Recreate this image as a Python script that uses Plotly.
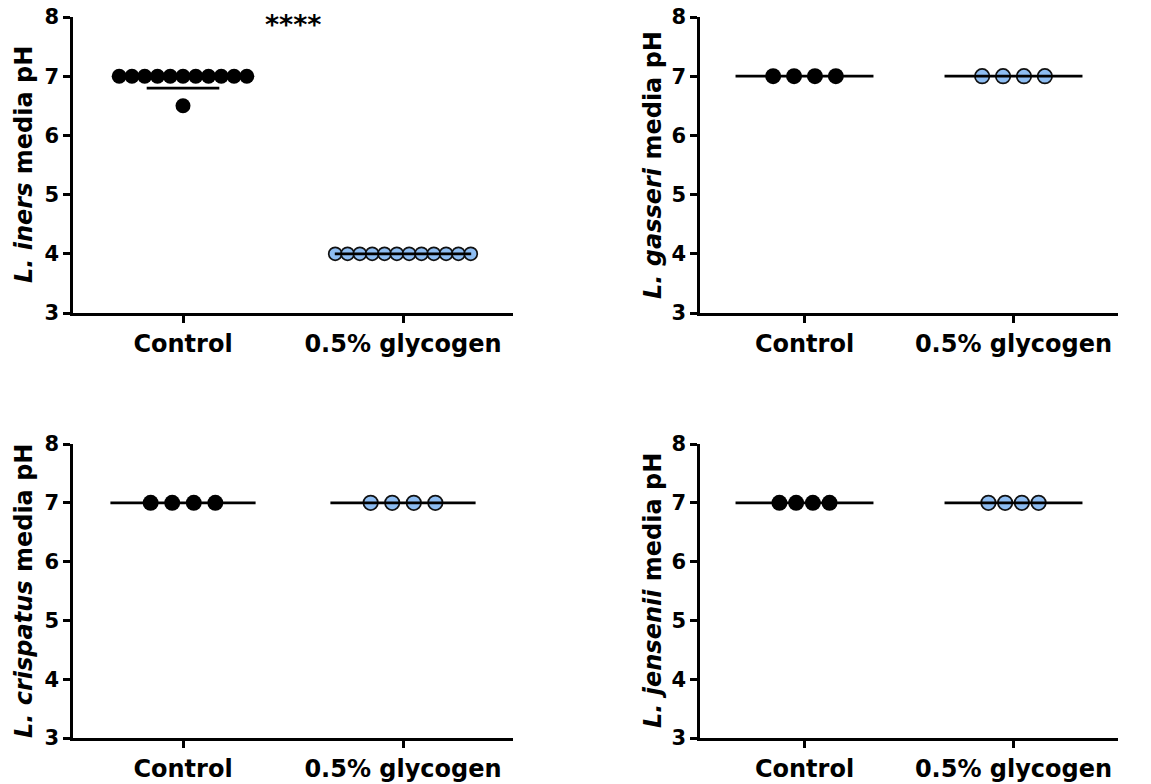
import plotly.graph_objects as go

# ---------------- data ----------------
categories = ["Control", "0.5% glycogen"]
y_ticks = [3, 4, 5, 6, 7, 8]

iners_control = [7.0] * 11 + [6.5]
iners_glycogen = [4.0] * 12
iners_lines = [6.8, 4.0]

gasseri_control = [7.0, 7.0, 7.0, 7.0]
gasseri_glycogen = [7.0, 7.0, 7.0, 7.0]
gasseri_lines = [7.0, 7.0]

crispatus_control = [7.0, 7.0, 7.0, 7.0]
crispatus_glycogen = [7.0, 7.0, 7.0, 7.0]
crispatus_lines = [7.0, 7.0]

jensenii_control = [7.0, 7.0, 7.0, 7.0]
jensenii_glycogen = [7.0, 7.0, 7.0, 7.0]
jensenii_lines = [7.0, 7.0]

species = ["iners", "gasseri", "crispatus", "jensenii"]
significance = ["****", "", "", ""]

# ---------------- style ----------------
FONT = "DejaVu Sans"
BLUE = "#8EBDF2"
panels = [
    dict(ctrl=iners_control, gly=iners_glycogen, lines=iners_lines, name="iners",
         xd=[73, 513], yd=[17, 313], spacing=[0.058, 0.056], half=[0.165, 0.31],
         msize=[15, 13], title_x=24),
    dict(ctrl=gasseri_control, gly=gasseri_glycogen, lines=gasseri_lines, name="gasseri",
         xd=[700, 1118], yd=[17, 313], spacing=[0.10, 0.10], half=[0.33, 0.33],
         msize=[16, 14.5], title_x=653),
    dict(ctrl=crispatus_control, gly=crispatus_glycogen, lines=crispatus_lines, name="crispatus",
         xd=[73, 513], yd=[444, 738], spacing=[0.098, 0.098], half=[0.33, 0.33],
         msize=[16, 14.5], title_x=24),
    dict(ctrl=jensenii_control, gly=jensenii_glycogen, lines=jensenii_lines, name="jensenii",
         xd=[700, 1118], yd=[444, 738], spacing=[0.08, 0.08], half=[0.33, 0.33],
         msize=[16, 14.5], title_x=653),
]

W, H = 1151, 784


def swarm(values, center, spacing):
    """Spread equal values symmetrically around the group centre."""
    xs = [None] * len(values)
    groups = {}
    for i, v in enumerate(values):
        groups.setdefault(v, []).append(i)
    for v, idx in groups.items():
        n = len(idx)
        for k, i in enumerate(idx):
            xs[i] = center + (k - (n - 1) / 2) * spacing
    return xs


fig = go.Figure()
layout = {}
for p_i, p in enumerate(panels):
    n = p_i + 1
    xa = "x" if n == 1 else f"x{n}"
    ya = "y" if n == 1 else f"y{n}"
    xkey = "xaxis" if n == 1 else f"xaxis{n}"
    ykey = "yaxis" if n == 1 else f"yaxis{n}"

    # control points
    fig.add_trace(go.Scatter(
        x=swarm(p["ctrl"], 0, p["spacing"][0]), y=p["ctrl"], mode="markers",
        marker=dict(color="black", size=p["msize"][0], line=dict(width=0)),
        xaxis=xa, yaxis=ya, showlegend=False, cliponaxis=False))
    # glycogen points
    fig.add_trace(go.Scatter(
        x=swarm(p["gly"], 1, p["spacing"][1]), y=p["gly"], mode="markers",
        marker=dict(color=BLUE, size=p["msize"][1], line=dict(width=1.7, color="#111111")),
        xaxis=xa, yaxis=ya, showlegend=False, cliponaxis=False))
    # centre lines
    for g in range(2):
        fig.add_trace(go.Scatter(
            x=[g - p["half"][g], g + p["half"][g]], y=[p["lines"][g]] * 2, mode="lines",
            line=dict(color="black", width=2.8),
            xaxis=xa, yaxis=ya, showlegend=False, hoverinfo="skip", cliponaxis=False))

    layout[xkey] = dict(
        domain=[p["xd"][0] / W, p["xd"][1] / W], anchor=ya, automargin=False,
        range=[-0.5, 1.5], tickmode="array", tickvals=[0, 1], ticktext=categories,
        showline=True, linecolor="black", linewidth=2.5,
        ticks="outside", ticklen=7, tickwidth=2.5, tickcolor="black",
        showgrid=False, zeroline=False,
        tickfont=dict(family=FONT, size=24, color="black", weight="bold"),
    )
    layout[ykey] = dict(
        domain=[1 - p["yd"][1] / H, 1 - p["yd"][0] / H], anchor=xa, automargin=False,
        range=[3, 8], tickmode="array", tickvals=y_ticks,
        showline=True, linecolor="black", linewidth=2.5,
        ticks="outside", ticklen=7, tickwidth=2.5, tickcolor="black",
        showgrid=False, zeroline=False,
        tickfont=dict(family=FONT, size=21, color="black", weight="bold"),
    )

annotations = []
for p_i, p in enumerate(panels):
    n = p_i + 1
    yc = 1 - ((p["yd"][0] + p["yd"][1]) / 2) / H
    annotations.append(dict(
        text=f"<i>L. {p['name']}</i> media pH", textangle=-90,
        xref="paper", yref="paper", x=p["title_x"] / W, y=yc,
        xanchor="center", yanchor="middle", showarrow=False,
        font=dict(family=FONT, size=24, color="black", weight="bold")))
    if significance[p_i]:
        xa = "x" if n == 1 else f"x{n}"
        ya = "y" if n == 1 else f"y{n}"
        annotations.append(dict(
            text=significance[p_i], xref=xa, yref=ya, x=0.5, y=8,
            xanchor="center", yanchor="middle", yshift=-8, showarrow=False,
            font=dict(family=FONT, size=27, color="black", weight="bold")))

fig.update_layout(
    width=W, height=H, margin=dict(l=0, r=0, t=0, b=0, autoexpand=False),
    paper_bgcolor="white", plot_bgcolor="white",
    annotations=annotations, **layout)

fig.write_html("out.html")
